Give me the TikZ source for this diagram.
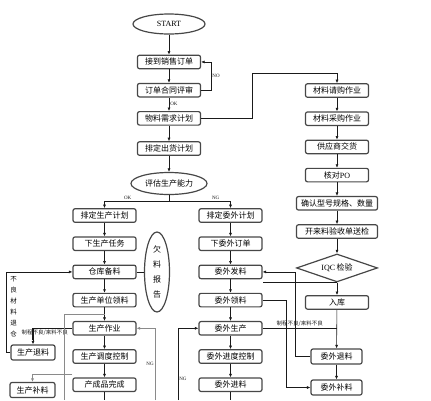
\documentclass[tikz,border=0pt]{standalone}
\usepackage{fontspec}
\setmainfont{Liberation Serif}
\newfontfamily\cjk{Noto Sans CJK SC}
\usetikzlibrary{shapes.geometric, arrows.meta, positioning, calc}
\definecolor{flowGray}{HTML}{474747}
\definecolor{flowLine}{HTML}{1A1A1A}
\definecolor{flowSoft}{HTML}{8A8A8A}
\tikzset{
  proc/.style  = {rectangle, rounded corners=2pt, draw=flowGray, line width=1.2pt,
                  fill=white, minimum width=63pt, minimum height=13.5pt,
                  inner sep=1pt, font=\cjk\fontsize{8}{9}\selectfont},
  wproc/.style = {proc, minimum width=81pt},
  sproc/.style = {proc, minimum width=45pt, minimum height=15pt},
  term/.style  = {ellipse, draw=flowGray, line width=1.2pt, fill=white,
                  minimum width=72pt, minimum height=20pt, inner sep=0pt,
                  font=\fontsize{8}{9}\selectfont},
  judge/.style = {diamond, aspect=2.9, draw=flowGray, line width=1.2pt, fill=white,
                  minimum width=81pt, minimum height=28pt, inner sep=0pt,
                  font=\fontsize{8}{9}\selectfont},
  arrow/.style = {-{Latex[length=3.5pt, width=3pt]}, line width=0.6pt, color=flowLine},
  link/.style  = {line width=0.6pt, color=flowLine},
  heavy/.style = {line width=1.4pt, color=flowLine},
  soft/.style  = {line width=0.5pt, color=flowSoft},
  tag/.style   = {font=\fontsize{5}{6}\selectfont, inner sep=1pt},
  ctag/.style  = {font=\cjk\fontsize{5.5}{6}\selectfont, inner sep=1pt},
}

\begin{document}
\begin{tikzpicture}[x=1pt, y=-1pt, node distance=13.5pt]
  \useasboundingbox (0,0) rectangle (431,400);

  % ---- order handling (top column) ----
  \node[term] (start) at (169,24) {START};
  \node[proc, below=20pt of start] (order)  {接到销售订单};
  \node[proc, below=of order]      (review) {订单合同评审};
  \node[proc, below=of review]     (mrp)    {物料需求计划};
  \node[proc, below=15.5pt of mrp] (ship)   {排定出货计划};
  \node[term, below=16pt of ship, minimum width=76pt, minimum height=22pt,
        font=\cjk\fontsize{8}{9}\selectfont] (cap) {评估生产能力};

  % ---- in-house production (left column) ----
  \node[proc] (pplan) at (104.5,215.5) {排定生产计划};
  \node[proc, below=of pplan] (task)  {下生产任务};
  \node[proc, below=of task]  (stock) {仓库备料};
  \node[proc, below=of stock] (pick)  {生产单位领料};
  \node[proc, below=of pick]  (work)  {生产作业};
  \node[proc, below=of work]  (ctrl)  {生产调度控制};
  \node[proc, below=of ctrl]  (done)  {产成品完成};
  \node[ellipse, draw=flowGray, line width=1.2pt, minimum width=25pt,
        minimum height=80pt, inner sep=0pt, align=center,
        font=\cjk\fontsize{8}{15}\selectfont] (short) at (157,272) {欠\\料\\报\\告};
  \node[sproc, minimum width=44pt] (ret) at (33,352.5) {生产退料};
  \node[sproc] (sup) at (32.5,390) {生产补料};
  \node[align=center, inner sep=0pt,
        font=\cjk\fontsize{6.5}{11}\selectfont] (badnote) at (13.5,307)
        {不\\良\\材\\料\\退\\仓};

  % ---- outsourcing (middle column) ----
  \node[proc] (oplan) at (230.5,215.5) {排定委外计划};
  \node[proc, below=of oplan] (oorder) {下委外订单};
  \node[proc, below=of oorder] (oiss)  {委外发料};
  \node[proc, below=of oiss]   (opick) {委外领料};
  \node[proc, below=of opick]  (oprod) {委外生产};
  \node[proc, below=of oprod]  (octrl) {委外进度控制};
  \node[proc, below=of octrl]  (oin)   {委外进料};

  % ---- purchasing (right column) ----
  \node[proc] (buyreq) at (337,90.5) {材料请购作业};
  \node[proc, below=of buyreq] (buy)    {材料采购作业};
  \node[proc, below=of buy]    (vendor) {供应商交货};
  \node[proc, below=of vendor] (po)     {核对{\rmfamily PO}};
  \node[wproc, below=of po]    (spec)   {确认型号规格、数量};
  \node[wproc, below=of spec]  (insp)   {开来料验收单送检};
  \node[judge, below=14.5pt of insp] (iqc) {IQC\,{\cjk 检验}};
  \node[proc, below=12.5pt of iqc] (store) {入库};
  \node[sproc, minimum width=51pt] (orlt) at (336.5,356.5) {委外退料};
  \node[sproc, minimum width=51pt] (osup) at (336.5,387.5) {委外补料};

  % ---- loose ends (chart continues below) ----
  \coordinate (pend) at (104.5,400);
  \coordinate (oend) at (230.5,400);
  \coordinate (lowL) at (64,400);
  \coordinate (ngL)  at (155,400);
  \coordinate (ngM)  at (178,400);
  \coordinate (tap)  at ($(pick.south)!0.5!(work.north)$);
  \coordinate (feedL) at ($(done.north west)+(0,-3)$);
  \coordinate (split) at ($(cap.south)+(0,6)$);

  % ---- top arrows ----
  \draw[arrow] (start) -- (order);
  \draw[arrow] (order) -- (review);
  \draw[arrow] (review.east) -- ++(10,0) |- node[tag, right, pos=0.25]{NO} (order.east);
  \draw[arrow] (review) -- node[tag, right]{OK} (mrp);
  \draw[arrow] (mrp) -- (ship);
  \draw[arrow] (ship) -- (cap);
  \draw[arrow] (mrp.east) -| ++(51,-45) -| (buyreq.north);
  \draw[link]  (cap.south) -- (split);
  \draw[arrow] (split) -| node[tag, above, pos=0.32]{OK} (pplan.north);
  \draw[arrow] (split) -| node[tag, above, pos=0.38]{NG} (oplan.north);

  % ---- left column arrows ----
  \draw[arrow] (pplan) -- (task);
  \draw[arrow] (task)  -- (stock);
  \draw[arrow] (stock) -- (pick);
  \draw[arrow] (pick)  -- (work);
  \draw[arrow] (work)  -- (ctrl);
  \draw[arrow] (ctrl)  -- (done);
  \draw[link]  (done)  -- (pend);
  \draw[link]  (stock.east) -- (stock.east -| short.west);
  \draw[heavy] (work.west) -| node[ctag, below, pos=0.35]{制程不良/来料不良}
               ($(ret.north)+(0,-4)$);
  \draw[arrow, line width=1pt] ($(ret.north)+(0,-4)$) -- (ret.north);
  \draw[arrow] (ret.west) -- ++(-4.5,0) |- (stock.west);
  \draw[soft]  (tap) -| (lowL);
  \draw[arrow, color=flowSoft] (feedL) -| (sup.north);
  \draw[arrow, color=flowSoft] (ngL) |- node[tag, left, pos=0.25, text=flowLine]{NG} (work.east);

  % ---- middle column arrows ----
  \draw[arrow] (oplan)  -- (oorder);
  \draw[arrow] (oorder) -- (oiss);
  \draw[arrow] (oiss)   -- (opick);
  \draw[arrow] (opick)  -- (oprod);
  \draw[arrow] (oprod)  -- (octrl);
  \draw[arrow] (octrl)  -- (oin);
  \draw[link]  (oin)    -- (oend);
  \draw[arrow] (ngM) |- node[tag, right, pos=0.15]{NG} (oprod.west);
  \draw[heavy] (oprod.east) -- node[ctag, above, pos=0.5]{制程不良/来料不良}
               (oprod.east -| store.south);

  % ---- right column arrows ----
  \draw[arrow] (buyreq) -- (buy);
  \draw[arrow] (buy)    -- (vendor);
  \draw[arrow] (vendor) -- (po);
  \draw[arrow] (po)     -- (spec);
  \draw[arrow] (spec)   -- (insp);
  \draw[arrow] (insp)   -- (iqc);
  \draw[arrow] (iqc)    -- (store);
  \draw[arrow] (store)  -- (orlt);
  \draw[arrow] (orlt)   -- (osup);
  \draw[link]  (iqc.south) -- (iqc.south -| oiss.east);
  \draw[arrow] (orlt.west) -| ($(oiss.east)+(33,0)$) -- (oiss.east);
  \draw[arrow] (opick.east) -| ($(osup.west)+(-24,0)$) -- (osup.west);

\end{tikzpicture}
\end{document}
